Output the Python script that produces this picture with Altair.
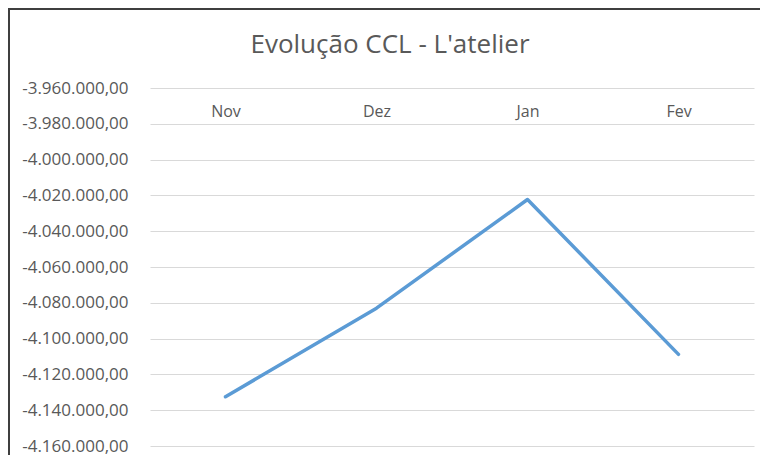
import altair as alt
import pandas as pd

months = ["Nov", "Dez", "Jan", "Fev"]
ccl = [-4132500, -4083000, -4022300, -4108800]
y_ticks = [-4160000, -4140000, -4120000, -4100000, -4080000, -4060000,
           -4040000, -4020000, -4000000, -3980000, -3960000]

df = pd.DataFrame({"mes": months, "ccl": ccl})

W, H = 604, 358
PL, PT, PR, PB = 142, 80, 6, 9

border = alt.Chart(pd.DataFrame({"a": [0]})).mark_rect(
    fill=None, stroke="#3f3f3f", strokeWidth=2
).encode(
    x=alt.value(-PL + 1), x2=alt.value(W + 300),
    y=alt.value(-PT + 1), y2=alt.value(H + 300),
)

line = alt.Chart(df).mark_line(color="#5B9BD5", strokeWidth=3.5, strokeCap="round", strokeJoin="round").encode(
    x=alt.X("mes:N", sort=months, title=None,
            axis=alt.Axis(orient="top", domain=False, ticks=False, tickSize=0,
                          labelPadding=-23, labelBaseline="middle", labelAngle=0,
                          labelFontSize=16, labelColor="#595959", grid=False)),
    y=alt.Y("ccl:Q", title=None,
            scale=alt.Scale(domain=[-4160000, -3960000], nice=False, zero=False),
            axis=alt.Axis(values=y_ticks, format=",.2f", domain=False, ticks=False,
                          labelPadding=22, labelFontSize=17, labelColor="#595959",
                          gridColor="#D9D9D9", gridWidth=1)),
)

chart = alt.layer(border, line).properties(
    width=W, height=H,
    autosize=alt.AutoSizeParams(type="none"),
    padding={"left": PL, "top": PT, "right": PR, "bottom": PB},
    title=alt.Title("Evolução CCL - L'atelier", fontSize=26, fontWeight="normal",
                    color="#595959", anchor="middle", dx=-62, offset=-50),
).configure(
    font="Open Sans",
    locale=alt.Locale(number=alt.NumberLocale(decimal=",", thousands=".", grouping=[3],
                                              currency=["R$", ""], minus="-")),
).configure_view(stroke=None)

chart.save("out.html", embed_options={"renderer": "svg", "actions": False})
